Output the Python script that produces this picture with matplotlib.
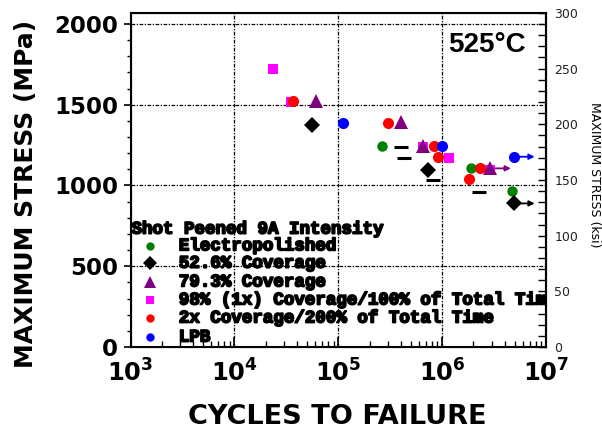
import matplotlib
matplotlib.use('Agg')
import matplotlib.pyplot as plt
import matplotlib.transforms as mtransforms
import matplotlib.patheffects as pe
from matplotlib.ticker import MultipleLocator, FixedLocator, LogLocator, NullFormatter, FixedFormatter

plt.rcParams['font.family'] = ['DejaVu Sans']
plt.rcParams['mathtext.fontset'] = 'dejavusans'
plt.rcParams['mathtext.default'] = 'bf'

MPA_PER_KSI = 6.894757

# cycles to failure / max stress (MPa)
ep_n = [2.63e5, 1.88e6, 4.68e6]
ep_s = [1246, 1106, 968]
c526_n = [5.6e4, 7.33e5, 4.9e6]
c526_s = [1372, 1096, 889]
c793_n = [6.1e4, 3.99e5, 6.47e5, 2.89e6]
c793_s = [1520, 1390, 1246, 1106]
c98_n = [2.36e4, 3.49e4, 6.47e5, 1.17e6, 2.89e6]
c98_s = [1721, 1515, 1240, 1168, 1096]
c2x_n = [3.66e4, 3.03e5, 8.31e5, 9.02e5, 1.82e6, 2.32e6]
c2x_s = [1525, 1385, 1246, 1174, 1038, 1106]
lpb_n = [1.12e5, 1.0e6, 4.9e6]
lpb_s = [1385, 1246, 1178]
dash_n = [4.0e5, 4.31e5, 8.1e5, 2.26e6]
dash_s = [1240, 1168, 1034, 961]

# run-outs (arrows)
run_n = [4.9e6, 2.89e6, 4.9e6]
run_s = [1178, 1106, 889]
run_c = ['#0000ff', '#800080', 'black']

legend_title = 'Shot Peened 9A Intensity'
legend_labels = ['Electropolished', '52.6% Coverage', '79.3% Coverage',
                 '98% (1x) Coverage/100% of Total Time',
                 '2x Coverage/200% of Total Time', 'LPB']

fig = plt.figure(figsize=(6.02, 4.29), dpi=100)
ax = fig.add_axes([0.217, 0.191, 0.690, 0.779])

# draw order: magenta under purple, red on top
series = [
    (c98_n, c98_s, 's', '#ff00ff', 7.5),
    (ep_n, ep_s, 'o', '#008000', 7.5),
    (c526_n, c526_s, 'D', 'black', 8.5),
    (c793_n, c793_s, '^', '#800080', 9.5),
    (c2x_n, c2x_s, 'o', '#ff0000', 8),
    (lpb_n, lpb_s, 'o', '#0000ff', 8),
]
for n, s, m, c, ms in series:
    ax.plot(n, s, linestyle='none', marker=m, color=c, markersize=ms,
            markeredgewidth=0, zorder=3)
ax.plot(dash_n, dash_s, linestyle='none', marker='_', color='black',
        markersize=10, markeredgewidth=2.2, zorder=3)

for n, s, c in zip(run_n, run_s, run_c):
    ax.annotate('', xy=(n, s), xycoords=mtransforms.offset_copy(ax.transData, fig=fig, x=15, y=0, units='points'),
                xytext=(n, s), textcoords='data',
                arrowprops=dict(arrowstyle='-|>', color=c, lw=1.3, mutation_scale=8,
                                shrinkA=0, shrinkB=0), zorder=2)

ax.set_xscale('log')
ax.set_xlim(1e3, 1e7)
ax.set_ylim(0, 300 * MPA_PER_KSI)

ax.xaxis.set_major_locator(FixedLocator([1e3, 1e4, 1e5, 1e6, 1e7]))
ax.xaxis.set_major_formatter(FixedFormatter([r'$10^{3}$', r'$10^{4}$', r'$10^{5}$', r'$10^{6}$', r'$10^{7}$']))
ax.xaxis.set_minor_locator(LogLocator(base=10, subs=range(2, 10)))
ax.xaxis.set_minor_formatter(NullFormatter())
ax.yaxis.set_major_locator(FixedLocator([0, 500, 1000, 1500, 2000]))
ax.yaxis.set_minor_locator(MultipleLocator(100))

ax.tick_params(axis='x', which='major', direction='in', length=7, width=1.2, labelsize=17.5, pad=9)
ax.tick_params(axis='x', which='minor', direction='in', length=4, width=1)
ax.tick_params(axis='y', which='major', direction='out', length=5, width=1.2, labelsize=16.5, pad=4)
ax.tick_params(axis='y', which='minor', direction='out', length=3, width=1)
for lab in ax.get_yticklabels():
    lab.set_fontweight('bold')

for sp in ax.spines.values():
    sp.set_linewidth(1.5)

grid_ls = (0, (3, 1.2, 1, 1.2))
for gx in [1e4, 1e5, 1e6]:
    ax.axvline(gx, color='black', linestyle=grid_ls, linewidth=0.9, zorder=1)
for gy in [500, 1000, 1500, 2000]:
    ax.axhline(gy, color='black', linestyle=grid_ls, linewidth=0.9, zorder=1)

ax2 = ax.twinx()
ax2.set_ylim(0, 300)
ax2.yaxis.set_major_locator(MultipleLocator(50))
ax2.yaxis.set_minor_locator(MultipleLocator(10))
ax2.tick_params(axis='y', which='both', direction='in', length=6, width=1, labelsize=9,
                pad=6, labelcolor='#222222')
ax2.spines['right'].set_linewidth(1.5)

ax.text(0.858, 0.905, '525°C', transform=ax.transAxes, ha='center', va='center',
        fontsize=20, fontweight='bold', family='Liberation Sans')

# legend drawn inside the axes
leg_font = dict(family='Liberation Mono', fontweight='bold', fontsize=12.6)
stroke = [pe.withStroke(linewidth=1.3, foreground='black')]
ax.text(0.002, 0.353, legend_title, transform=ax.transAxes, ha='left', va='center',
        clip_on=True, path_effects=stroke, zorder=4, **leg_font)
leg_handles = [('o', '#008000', 6), ('D', 'black', 7.5), ('^', '#800080', 8),
               ('s', '#ff00ff', 6), ('o', '#ff0000', 6), ('o', '#0000ff', 6)]
leg_y = [0.303, 0.251, 0.195, 0.141, 0.087, 0.030]
for (m, c, ms), lab, yy in zip(leg_handles, legend_labels, leg_y):
    ax.plot([0.0465], [yy], transform=ax.transAxes, marker=m, color=c, markersize=ms,
            markeredgewidth=0, linestyle='none', clip_on=False, zorder=4)
    ax.text(0.116, yy, lab, transform=ax.transAxes, ha='left', va='center',
            clip_on=True, path_effects=stroke, zorder=4, **leg_font)

fig.text(26 / 602, 1 - 194 / 429, 'MAXIMUM STRESS (MPa)', rotation=90, ha='center', va='center',
         fontsize=18, fontweight='bold')
fig.text(337.5 / 602, 1 - 417 / 429, 'CYCLES TO FAILURE', ha='center', va='center',
         fontsize=19.5, fontweight='bold')
fig.text(595 / 602, 1 - 175 / 429, 'MAXIMUM STRESS (ksi)', rotation=-90, ha='center', va='center',
         fontsize=9)

fig.savefig('out.png', dpi=100)
